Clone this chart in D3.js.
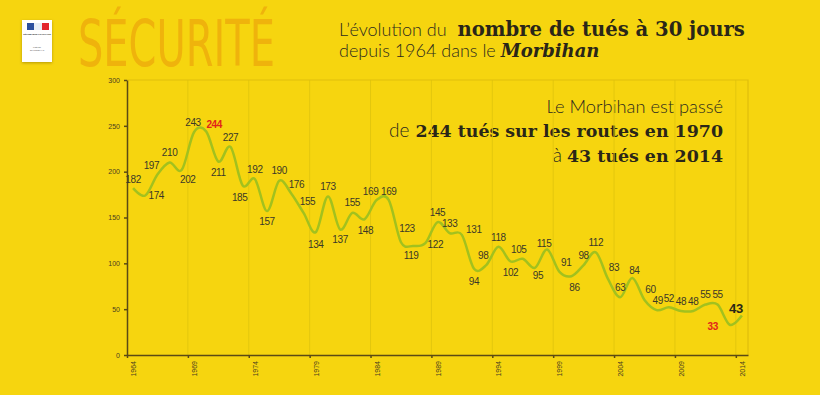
<!doctype html>
<html lang="fr">
<head>
<meta charset="utf-8">
<style>
  body { margin: 0; background: #f6d50f; }
  svg { display: block; }
  .lbl { font-family: "Liberation Sans", Arial, sans-serif; font-size: 10px; fill: #3a3828; letter-spacing: -0.4px; }
  .tick text { font-family: "Liberation Sans", Arial, sans-serif; font-size: 7px; fill: #4a4020; }
  .light { font-family: Lato, "Open Sans", sans-serif; font-weight: 300; fill: #2c2a1e; }
  .slab { font-family: "DejaVu Serif", serif; font-weight: bold; fill: #2a2618; }
</style>
</head>
<body>
<div id="chart"></div>
<script src="https://d3js.org/d3.v7.min.js"></script>
<script>

// années et nombre de tués à 30 jours (Morbihan)
var annees = d3.range(1964, 2015);
var tues = [182,174,197,210,202,243,244,211,227,185,
            192,157,190,176,155,134,173,137,155,148,
            169,169,123,119,122,145,133,131,94,98,
            118,102,105,95,115,91,86,98,112,83,
            63,84,60,49,52,48,48,55,55,33,
            43];
var ticksX = [1964,1969,1974,1979,1984,1989,1994,1999,2004,2009,2014];
var ticksY = [0,50,100,150,200,250,300];

// placement des étiquettes (décalage du centre par rapport au point)
var decalages = [[0,-9],[11,0],[-6,-9],[0,-10],[6,10],[-1,-9.5],[8,-7],[0,11],[0,-9],[-3,12],
                 [0,-10],[0,10],[0,-10],[5,-9],[4,-11],[0,12],[0,-10],[0,10],[0,-10],[1,11],
                 [-6,-9],[0,-9],[6,-14],[-2,10],[10,1],[0,-10],[0,-10],[12,-5],[0,13],[-3,-10],
                 [0,-9],[0,11],[-4,-9],[3,8],[-3,-6],[7,-9],[3,11],[0,-10],[0,-10],[6,-11],
                 [0,-9.5],[2,-8],[6,-11],[1,-9.5],[0,-9],[0,-10],[0,-10],[0,-10],[0,-10],[-17,2],
                 [-6,-7]];

var w = 820, h = 395;
var svg = d3.select("#chart").append("svg").attr("width", w).attr("height", h);
svg.append("rect").attr("width", w).attr("height", h).attr("fill", "#f6d50f");

// bandeau : police étroite, étirée en hauteur et ramenée à 197 px de large
var secu = svg.append("text").text("SÉCURITÉ")
  .style("font-family", "'Liberation Sans Narrow', 'DejaVu Sans Condensed', sans-serif")
  .style("font-size", "48px").attr("fill", "#efb30c");
var secuLarg = secu.node().getComputedTextLength();
secu.attr("transform", "translate(78,66) scale(" + (197 / secuLarg) + ",1.33)");

var defs = svg.append("defs");
var f = defs.append("filter").attr("id", "ombre").attr("x", "-30%").attr("y", "-30%").attr("width", "160%").attr("height", "160%");
f.append("feDropShadow").attr("dx", 0).attr("dy", 1).attr("stdDeviation", 1.5).attr("flood-color", "#8a7000").attr("flood-opacity", 0.6);

var logo = svg.append("g").attr("transform", "translate(22,20)");
logo.append("rect").attr("width", 30).attr("height", 42).attr("fill", "#fff").attr("filter", "url(#ombre)");
logo.append("rect").attr("x", 5).attr("y", 3).attr("width", 7).attr("height", 7).attr("fill", "#2c4f9e");
logo.append("rect").attr("x", 12).attr("y", 3).attr("width", 8).attr("height", 7).attr("fill", "#e9eef5");
logo.append("rect").attr("x", 20).attr("y", 3).attr("width", 7).attr("height", 7).attr("fill", "#e3262d");
logo.append("text").text("RÉPUBLIQUE FRANÇAISE").attr("x", 15).attr("y", 14.5).attr("text-anchor", "middle")
  .style("font-size", "2.2px").style("font-weight", "bold").style("font-family", "sans-serif").attr("fill", "#333");
logo.append("text").text("PRÉFET").attr("x", 15).attr("y", 28).attr("text-anchor", "middle")
  .style("font-size", "2px").style("font-family", "sans-serif").attr("fill", "#555");
logo.append("text").text("DU MORBIHAN").attr("x", 15).attr("y", 31).attr("text-anchor", "middle")
  .style("font-size", "2px").style("font-family", "sans-serif").attr("fill", "#555");

// texte en morceaux (léger + gras) placés bout à bout
function ligneTexte(x0, y0, morceaux, alignDroite) {
  var noeuds = morceaux.map(function(m){
    var t = svg.append("text").attr("class", m.c).attr("y", y0).style("font-size", m.s + "px").text(m.t);
    if (m.it) t.style("font-style", "italic");
    return t;
  });
  var larg = noeuds.map(function(n, i){ return n.node().getComputedTextLength() + (morceaux[i].gap || 0) });
  var cx = alignDroite ? x0 - d3.sum(larg) : x0;
  noeuds.forEach(function(n, i){ n.attr("x", cx); cx += larg[i]; });
}

// titre
ligneTexte(339, 36, [{c:"light", s:18, t:"L’évolution du", gap:11}, {c:"slab", s:19.6, t:"nombre de tués à 30 jours"}]);
ligneTexte(339, 57, [{c:"light", s:18, t:"depuis 1964 dans le", gap:5}, {c:"slab", s:18, it:true, t:"Morbihan"}]);

// encadré
ligneTexte(723, 113, [{c:"light", s:18.3, t:"Le Morbihan est passé"}], true);
ligneTexte(723, 137, [{c:"light", s:19, t:"de", gap:6}, {c:"slab", s:17.4, t:"244 tués sur les routes en 1970"}], true);
ligneTexte(723, 162, [{c:"light", s:19, t:"à", gap:5}, {c:"slab", s:17.4, t:"43 tués en 2014"}], true);

// graphique
var x = d3.scaleLinear().domain([1964, 2015]).range([127, 748]);
var y = d3.scaleLinear().domain([0, 300]).range([355, 80]);

// grille verticale
svg.append("g").selectAll("line").data(ticksX.slice(1)).enter().append("line")
  .attr("x1", function(d){ return x(d) }).attr("x2", function(d){ return x(d) })
  .attr("y1", y(300)).attr("y2", y(0))
  .attr("stroke", "#e3c70e").attr("stroke-width", 1);

// cadre haut et droit
svg.append("path")
  .attr("d", "M" + x(1964) + "," + y(300) + "H" + x(2015) + "V" + y(0))
  .attr("fill", "none").attr("stroke", "#e0bf0c").attr("stroke-width", 1.2);

var axeX = svg.append("g").attr("transform", "translate(0," + y(0) + ")")
  .call(d3.axisBottom(x).tickValues(ticksX).tickFormat("").tickSize(3).tickSizeOuter(0));
axeX.selectAll(".tick").append("text")
  .text(function(d){ return d })
  .attr("transform", function(d){ return "translate(" + (x(d + 0.5) - x(d) + 2.5) + ",6) rotate(-90)" })
  .attr("text-anchor", "end")
  .attr("fill", "#4a4020");

var axeY = svg.append("g").attr("transform", "translate(" + x(1964) + ",0)")
  .call(d3.axisLeft(y).tickValues(ticksY).tickSize(3).tickSizeOuter(0).tickPadding(4));

svg.selectAll(".domain, .tick line").attr("stroke", "#5a4a14").attr("stroke-width", 1.5);

// courbe
var ligne = d3.line()
  .x(function(d, i){ return x(annees[i] + 0.5) })
  .y(function(d){ return y(d) })
  .curve(d3.curveCardinal.tension(0));

svg.append("path").datum(tues).attr("d", ligne)
  .attr("fill", "none").attr("stroke", "#a2c11e").attr("stroke-width", 2.5);

// étiquettes
svg.append("g").selectAll("text").data(tues).enter().append("text")
  .attr("class", "lbl")
  .attr("x", function(d, i){ return x(annees[i] + 0.5) + decalages[i][0] })
  .attr("y", function(d, i){ return y(d) + decalages[i][1] })
  .attr("dy", "0.35em")
  .attr("text-anchor", "middle")
  .text(function(d){ return d })
  .each(function(d, i){
    var s = d3.select(this);
    if (annees[i] == 1970 || annees[i] == 2013) {
      s.style("fill", "#e2231a").style("font-weight", "bold");
    }
    if (annees[i] == 2014) {
      s.style("font-weight", "bold").style("font-size", "13px").style("fill", "#2a2618");
    }
  });

</script>
</body>
</html>
